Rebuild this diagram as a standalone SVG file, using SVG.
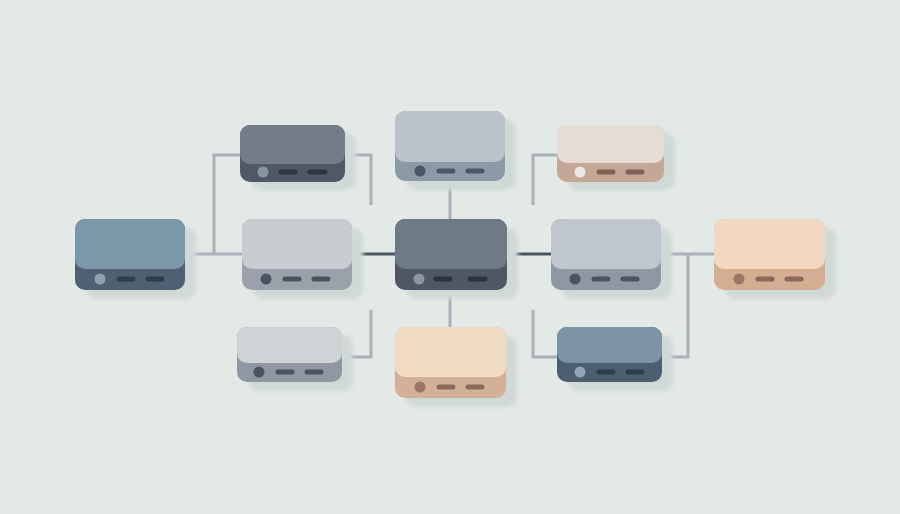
<svg xmlns="http://www.w3.org/2000/svg" width="900" height="514" viewBox="0 0 900 514">
<defs>
<filter id="blur" x="-20%" y="-20%" width="140%" height="140%"><feGaussianBlur stdDeviation="2"/></filter>
<style>
.sh{fill:#cfd9d6;filter:url(#blur)}
.ln{fill:none;stroke:#aab1bb;stroke-width:3}
.dk{fill:none;stroke:#4c5564;stroke-width:3}
.d{stroke-width:5;stroke-linecap:round}
</style>
</defs>
<rect width="900" height="514" fill="#e3e9e6"/>
<g id="connectors">
<path class="ln" d="M185 254H242"/>
<path class="ln" d="M214 254V155H240"/>
<path class="ln" d="M345 155H371V205"/>
<path class="dk" d="M352 254H395"/>
<path class="dk" d="M507 254H551"/>
<path class="ln" d="M450 181V219"/>
<path class="ln" d="M450 290V327"/>
<path class="ln" d="M557 155H533V205"/>
<path class="ln" d="M661 254H714"/>
<path class="ln" d="M688 254V357H662"/>
<path class="ln" d="M533 310V357H557"/>
<path class="ln" d="M342 357H371V310"/>
</g>
<g id="n-left">
<rect class="sh" x="86" y="228" width="110" height="71" rx="10"/>
<rect x="75" y="219" width="110" height="71" rx="10" fill="#4e6172"/>
<rect x="75" y="219" width="110" height="50" rx="10" fill="#7b97a9"/>
<circle cx="100" cy="279" r="5.5" fill="#8fa3b3"/>
<path class="d" d="M119 279H133M148 279H162" stroke="#2f3d4b"/>
</g>
<g id="n-midleft">
<rect class="sh" x="253" y="228" width="110" height="71" rx="10"/>
<rect x="242" y="219" width="110" height="71" rx="10" fill="#9aa1ab"/>
<rect x="242" y="219" width="110" height="50" rx="10" fill="#c9ccd1"/>
<circle cx="266" cy="279" r="5.5" fill="#4a5461"/>
<path class="d" d="M285 279H299M314 279H328" stroke="#4a5461"/>
</g>
<g id="n-topleft">
<rect class="sh" x="251" y="133" width="105" height="57" rx="10"/>
<rect x="240" y="125" width="105" height="57" rx="10" fill="#4f5866"/>
<rect x="240" y="125" width="105" height="39" rx="10" fill="#737d8a"/>
<circle cx="263" cy="172" r="5.5" fill="#8a95a3"/>
<path class="d" d="M281 172H295M310 172H325" stroke="#2e3540"/>
</g>
<g id="n-topcenter">
<rect class="sh" x="406" y="120" width="110" height="70" rx="10"/>
<rect x="395" y="111" width="110" height="70" rx="10" fill="#8c9aa8"/>
<rect x="395" y="111" width="110" height="51" rx="10" fill="#bcc3ca"/>
<circle cx="420" cy="171" r="5.5" fill="#4a5766"/>
<path class="d" d="M439 171H453M468 171H482" stroke="#4a5766"/>
</g>
<g id="n-center">
<rect class="sh" x="406" y="228" width="112" height="71" rx="10"/>
<rect x="395" y="219" width="112" height="71" rx="10" fill="#4d5766"/>
<rect x="395" y="219" width="112" height="50" rx="10" fill="#6f7a87"/>
<circle cx="419" cy="279" r="5.5" fill="#8a94a3"/>
<path class="d" d="M436 279H450M470 279H485" stroke="#2c333d"/>
</g>
<g id="n-topright">
<rect class="sh" x="568" y="133" width="107" height="57" rx="10"/>
<rect x="557" y="125" width="107" height="57" rx="10" fill="#c4a896"/>
<rect x="557" y="125" width="107" height="38" rx="10" fill="#e5dcd6"/>
<circle cx="580" cy="172" r="5.5" fill="#f0e8e2"/>
<path class="d" d="M599 172H613M628 172H642" stroke="#7d6259"/>
</g>
<g id="n-midright">
<rect class="sh" x="562" y="228" width="110" height="71" rx="10"/>
<rect x="551" y="219" width="110" height="71" rx="10" fill="#8e98a5"/>
<rect x="551" y="219" width="110" height="50" rx="10" fill="#c0c6ce"/>
<circle cx="575" cy="279" r="5.5" fill="#4a5461"/>
<path class="d" d="M594 279H608M623 279H637" stroke="#4a5461"/>
</g>
<g id="n-right">
<rect class="sh" x="725" y="228" width="111" height="71" rx="10"/>
<rect x="714" y="219" width="111" height="71" rx="10" fill="#d4ad92"/>
<rect x="714" y="219" width="111" height="50" rx="10" fill="#f2d8c0"/>
<circle cx="739" cy="279" r="5.5" fill="#9b7568"/>
<path class="d" d="M758 279H772M787 279H801" stroke="#8a685c"/>
</g>
<g id="n-bottomleft">
<rect class="sh" x="248" y="335" width="105" height="56" rx="10"/>
<rect x="237" y="327" width="105" height="55" rx="10" fill="#8f97a2"/>
<rect x="237" y="327" width="105" height="36" rx="10" fill="#cfd2d6"/>
<circle cx="259" cy="372" r="5.5" fill="#4a5461"/>
<path class="d" d="M278 372H292M307 372H321" stroke="#4a5461"/>
</g>
<g id="n-bottomcenter">
<rect class="sh" x="406" y="336" width="111" height="71" rx="10"/>
<rect x="395" y="327" width="111" height="71" rx="10" fill="#d4b099"/>
<rect x="395" y="327" width="111" height="50" rx="10" fill="#f0dcc2"/>
<circle cx="420" cy="387" r="5.5" fill="#9b7568"/>
<path class="d" d="M439 387H453M468 387H482" stroke="#8a685c"/>
</g>
<g id="n-bottomright">
<rect class="sh" x="568" y="335" width="105" height="56" rx="10"/>
<rect x="557" y="327" width="105" height="55" rx="10" fill="#4c5f70"/>
<rect x="557" y="327" width="105" height="36" rx="10" fill="#7a94a6"/>
<circle cx="580" cy="372" r="5.5" fill="#8fa4b4"/>
<path class="d" d="M599 372H613M628 372H642" stroke="#2f3d4b"/>
</g>
</svg>
